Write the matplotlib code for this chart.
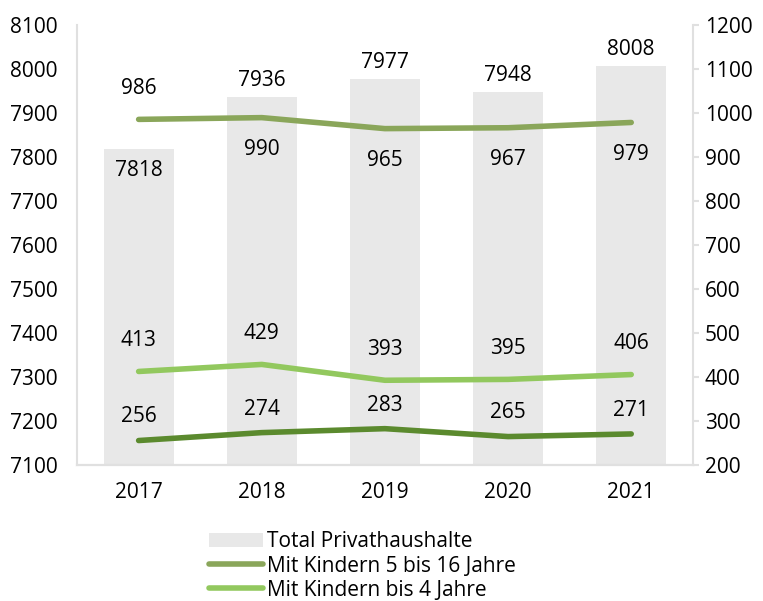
import numpy as np
import matplotlib
matplotlib.use("Agg")
import matplotlib.pyplot as plt

plt.rcParams["font.family"] = ["Open Sans", "DejaVu Sans"]

years = ["2017", "2018", "2019", "2020", "2021"]
total = [7818, 7936, 7977, 7948, 8008]
kids_5_16 = [986, 990, 965, 967, 979]
kids_0_4 = [413, 429, 393, 395, 406]
kids_other = [256, 274, 283, 265, 271]

c_bar = "#e8e8e8"
c_olive = "#8aa65a"
c_light = "#92c85e"
c_dark = "#5b8a2e"
c_axis = "#e0e0e0"
fs = 15

fig = plt.figure(figsize=(7.63, 6.01), dpi=100)
ax = fig.add_axes([0.101, 0.226, 0.807, 0.732])
ax2 = ax.twinx()

x = np.arange(len(years))
bars = ax.bar(x, total, width=0.57, color=c_bar, label="Total Privathaushalte", zorder=1)
ax.set_ylim(7100, 8100)
ax.set_yticks(np.arange(7100, 8101, 100))
ax.set_xlim(-0.5, len(years) - 0.5)
ax.set_xticks(x)
ax.set_xticklabels(years)

l1, = ax2.plot(x, kids_5_16, color=c_olive, lw=4, solid_capstyle="round", label="Mit Kindern 5 bis 16 Jahre")
l2, = ax2.plot(x, kids_0_4, color=c_light, lw=4, solid_capstyle="round", label="Mit Kindern bis 4 Jahre")
l3, = ax2.plot(x, kids_other, color=c_dark, lw=4, solid_capstyle="round")
ax2.set_ylim(200, 1200)
ax2.set_yticks(np.arange(200, 1201, 100))

for a in (ax, ax2):
    a.spines["top"].set_visible(False)
    for s in ("bottom", "left", "right"):
        a.spines[s].set_color(c_axis)
        a.spines[s].set_linewidth(1.5)
    a.tick_params(length=0, labelsize=fs, colors="black")
ax.spines["right"].set_visible(False)
ax2.spines["left"].set_visible(False)
ax.tick_params(axis="x", pad=12)
ax.tick_params(axis="y", pad=14)
ax2.tick_params(axis="y", length=4.5, width=1.5, color=c_axis, pad=4)

# bar labels
for i, v in enumerate(total):
    off = -15 if i == 0 else 12
    ax.annotate(str(v), (x[i], v), xytext=(0, off), textcoords="offset points",
                ha="center", va="center", fontsize=fs)

# line labels
for i, v in enumerate(kids_5_16):
    off = 22 if i == 0 else -23
    ax2.annotate(str(v), (x[i], v), xytext=(0, off), textcoords="offset points",
                 ha="center", va="center", fontsize=fs)
for i, v in enumerate(kids_0_4):
    ax2.annotate(str(v), (x[i], v), xytext=(0, 22), textcoords="offset points",
                 ha="center", va="center", fontsize=fs)
for i, v in enumerate(kids_other):
    ax2.annotate(str(v), (x[i], v), xytext=(0, 17), textcoords="offset points",
                 ha="center", va="center", fontsize=fs)

fig.legend([bars, l1, l2], ["Total Privathaushalte", "Mit Kindern 5 bis 16 Jahre", "Mit Kindern bis 4 Jahre"],
           loc="upper left", bbox_to_anchor=(0.26, 0.133), frameon=False, fontsize=fs,
           handlelength=2.6, handletextpad=0.2, labelspacing=0.15, borderpad=0)

fig.savefig("out.png", dpi=100)
